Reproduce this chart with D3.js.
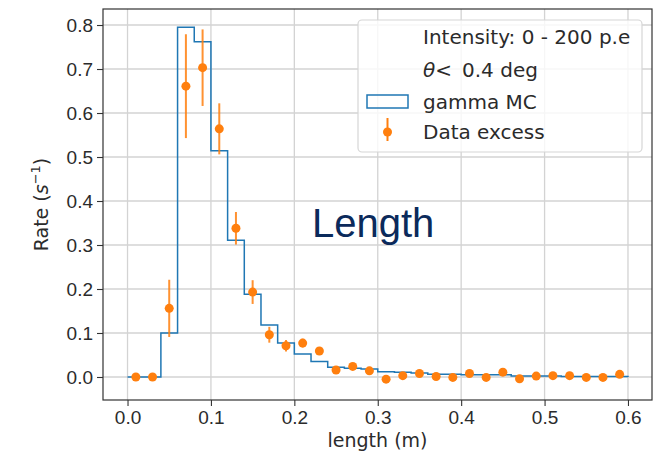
<!DOCTYPE html>
<html lang="en">
<head>
  <meta charset="UTF-8">
  <title>Length distribution</title>
  <script src="https://d3js.org/d3.v7.min.js"></script>
  <style>
    body { margin: 0; background: #fff; }
    svg { display: block; font-family: 'DejaVu Sans', sans-serif; }
    .tick text { fill: #2b2b2b; font-size: 19px; }
  </style>
</head>
<body>
  <svg width="668" height="456"></svg>
  <script>
    // gamma MC histogram, bins of 0.02 m
    const binEdges = d3.range(0, 0.6001, 0.02).map(v => +v.toFixed(2));
    const mcRate = [0, 0, 0.100, 0.795, 0.762, 0.514, 0.311, 0.188, 0.118, 0.077,
                    0.052, 0.035, 0.022, 0.020, 0.018, 0.012, 0.011, 0.009, 0.006, 0.006,
                    0.005, 0.005, 0.005, 0.002, 0.002, 0.002, 0.001, 0.001, 0.001, 0.001];

    // data excess points
    const dataLen = binEdges.slice(0, -1).map(e => +(e + 0.01).toFixed(2));
    const dataRate = [0, 0, 0.156, 0.661, 0.703, 0.564, 0.338, 0.193, 0.096, 0.071,
                      0.077, 0.059, 0.016, 0.024, 0.014, -0.005, 0.003, 0.008, 0.001, -0.001,
                      0.008, -0.001, 0.011, -0.004, 0.002, 0.003, 0.003, -0.001, -0.001, 0.006];
    const dataErr = [0, 0, 0.065, 0.118, 0.087, 0.058, 0.037, 0.027, 0.018, 0.013,
                     0.010, 0.009, 0.006, 0.006, 0.006, 0.005, 0.005, 0.005, 0.005, 0.005,
                     0.005, 0.005, 0.005, 0.005, 0.005, 0.005, 0.005, 0.005, 0.005, 0.005];

    const xTicks = [0, 0.1, 0.2, 0.3, 0.4, 0.5, 0.6];
    const yTicks = [0, 0.1, 0.2, 0.3, 0.4, 0.5, 0.6, 0.7, 0.8];

    const pL = 103, pR = 652, pT = 9, pB = 400;
    const x = d3.scaleLinear().domain([-0.0294, 0.6288]).range([pL, pR]);
    const y = d3.scaleLinear().domain([-0.0523, 0.8364]).range([pB, pT]);

    const svg = d3.select("svg");
    const blue = "#1f77b4", orange = "#ff7f0e";

    // grid
    svg.append("g").selectAll("line").data(xTicks).join("line")
      .attr("x1", d => x(d)).attr("x2", d => x(d))
      .attr("y1", pT).attr("y2", pB)
      .attr("stroke", "#d3d3d3").attr("stroke-width", 1.3);
    svg.append("g").selectAll("line").data(yTicks).join("line")
      .attr("x1", pL).attr("x2", pR)
      .attr("y1", d => y(d)).attr("y2", d => y(d))
      .attr("stroke", "#d3d3d3").attr("stroke-width", 1.3);

    // step outline like histtype='step'
    const stepPts = [[binEdges[0], 0]];
    mcRate.forEach((v, i) => {
      stepPts.push([binEdges[i], v]);
      stepPts.push([binEdges[i + 1], v]);
    });
    stepPts.push([binEdges[binEdges.length - 1], 0]);
    svg.append("path")
      .attr("d", d3.line().x(d => x(d[0])).y(d => y(d[1]))(stepPts))
      .attr("fill", "none").attr("stroke", blue).attr("stroke-width", 1.5);

    // error bars + markers
    const pts = dataLen.map((l, i) => ({ l, r: dataRate[i], e: dataErr[i] }));
    svg.append("g").selectAll("line").data(pts.filter(d => d.e > 0)).join("line")
      .attr("x1", d => x(d.l)).attr("x2", d => x(d.l))
      .attr("y1", d => y(d.r - d.e)).attr("y2", d => y(d.r + d.e))
      .attr("stroke", orange).attr("stroke-width", 2).attr("opacity", 0.85);
    svg.append("g").selectAll("circle").data(pts).join("circle")
      .attr("cx", d => x(d.l)).attr("cy", d => y(d.r)).attr("r", 4.5)
      .attr("fill", orange);

    // axes
    const xAxis = svg.append("g").attr("transform", `translate(0,${pB})`)
      .call(d3.axisBottom(x).tickValues(xTicks).tickFormat(d3.format(".1f")).tickSize(6).tickPadding(5));
    const yAxis = svg.append("g").attr("transform", `translate(${pL},0)`)
      .call(d3.axisLeft(y).tickValues(yTicks).tickFormat(d3.format(".1f")).tickSize(6).tickPadding(4));
    [xAxis, yAxis].forEach(a => {
      a.select(".domain").remove();
      a.selectAll(".tick line").attr("stroke", "#333").attr("stroke-width", 1.1);
    });

    svg.append("rect")
      .attr("x", pL).attr("y", pT).attr("width", pR - pL).attr("height", pB - pT)
      .attr("fill", "none").attr("stroke", "#333").attr("stroke-width", 1.2);

    // axis labels
    svg.append("text").attr("x", (pL + pR) / 2).attr("y", 447)
      .attr("text-anchor", "middle").attr("font-size", 19).attr("fill", "#2b2b2b")
      .text("length (m)");
    const yl = svg.append("text")
      .attr("transform", `translate(48,${(pT + pB) / 2}) rotate(-90)`)
      .attr("text-anchor", "middle").attr("font-size", 19).attr("fill", "#2b2b2b");
    yl.append("tspan").text("Rate (");
    yl.append("tspan").attr("font-style", "italic").text("s");
    yl.append("tspan").attr("font-size", 13).attr("dy", -8).text("−1");
    yl.append("tspan").attr("dy", 8).text(")");

    // legend
    const lg = svg.append("g");
    lg.append("rect").attr("x", 358).attr("y", 20).attr("width", 284).attr("height", 132)
      .attr("rx", 4).attr("fill", "#fff").attr("fill-opacity", 0.8)
      .attr("stroke", "#d6d6d6").attr("stroke-width", 1.2);
    const lgText = (yc) => lg.append("text").attr("x", 423).attr("y", yc + 7)
      .attr("font-size", 20).attr("fill", "#2b2b2b");
    lgText(37).text("Intensity: 0 - 200 p.e");
    const th = lgText(70);
    th.append("tspan").attr("font-style", "italic").text("θ");
    th.append("tspan").text("<");
    th.append("tspan").attr("dx", 10).text("0.4 deg");
    lgText(102).text("gamma MC");
    lgText(132).text("Data excess");
    lg.append("rect").attr("x", 367).attr("y", 95).attr("width", 41).attr("height", 13)
      .attr("fill", "none").attr("stroke", blue).attr("stroke-width", 1.5);
    lg.append("line").attr("x1", 387.5).attr("x2", 387.5).attr("y1", 118).attr("y2", 141)
      .attr("stroke", orange).attr("stroke-width", 2);
    lg.append("circle").attr("cx", 387.5).attr("cy", 132).attr("r", 4.5).attr("fill", orange);

    // slide annotation
    svg.append("text").attr("x", 312).attr("y", 237)
      .attr("font-family", "'Liberation Sans', Arial, sans-serif").attr("font-size", 40)
      .attr("fill", "#0b2a5b").text("Length");
  </script>
</body>
</html>
